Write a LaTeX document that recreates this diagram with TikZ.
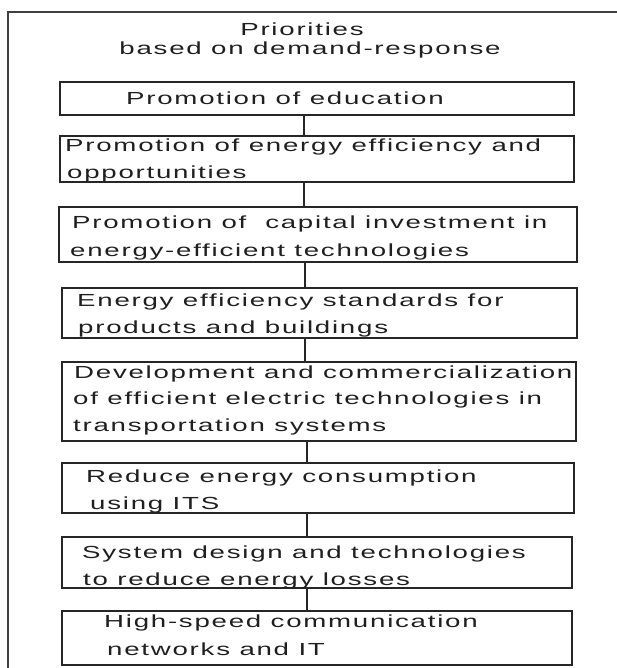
\documentclass[tikz,border=0pt]{standalone}
\usepackage{fontspec}
\setmainfont{Liberation Sans}[FakeStretch=1.58,LetterSpace=10]
\begin{document}
\begin{tikzpicture}[x=1pt,y=-1pt,
  box/.style={draw=black!85,line width=1.6pt,inner sep=0pt},
  txt/.style={inner sep=0pt,anchor=base west,text=black!88,font=\fontsize{17.5}{21}\selectfont},
  ttl/.style={inner sep=0pt,anchor=base,text=black!88,font=\fontsize{17.5}{21}\selectfont},
  link/.style={draw=black!85,line width=1.6pt},
  frame/.style={draw=black!75,line width=2pt}]
\useasboundingbox (0,0) rectangle (617,668);
% outer frame (left and top edges only)
\coordinate (fa) at (7.5,668);
\coordinate (fb) at (7.5,12);
\coordinate (fc) at (617,12);
\draw[frame] (fa) -- (fb) -- (fc);
% heading
\node[ttl] (t1) at (302,35.7) {Priorities};
\node[ttl] (t2) at (310,55) {based on demand-response};
% boxes
\node[box,minimum width=514pt,minimum height=33pt] (b1) at (317,98.5) {};
\node[box,minimum width=514pt,minimum height=46pt] (b2) at (317,159) {};
\node[box,minimum width=518pt,minimum height=55pt] (b3) at (318,234.5) {};
\node[box,minimum width=515pt,minimum height=50pt] (b4) at (319.5,313) {};
\node[box,minimum width=514pt,minimum height=79pt] (b5) at (319,401.5) {};
\node[box,minimum width=512pt,minimum height=50pt] (b6) at (318,488) {};
\node[box,minimum width=510pt,minimum height=51pt] (b7) at (317,562.5) {};
\node[box,minimum width=510pt,minimum height=54pt] (b8) at (317,638) {};
% box texts
\node[txt] (l1a) at (126,105) {Promotion of education};
\node[txt] (l2a) at (65,151.5) {Promotion of energy efficiency and};
\node[txt] (l2b) at (67,179) {opportunities};
\node[txt] (l3a) at (72,228) {Promotion of\ \ capital investment in};
\node[txt] (l3b) at (70,256) {energy-efficient technologies};
\node[txt] (l4a) at (77,306) {Energy efficiency standards for};
\node[txt] (l4b) at (78,333) {products and buildings};
\node[txt] (l5a) at (74,378) {Development and commercialization};
\node[txt] (l5b) at (73,404.5) {of efficient electric technologies in};
\node[txt] (l5c) at (73,431) {transportation systems};
\node[txt] (l6a) at (86,482) {Reduce energy consumption};
\node[txt] (l6b) at (90,509) {using ITS};
\node[txt] (l7a) at (82,558) {System design and technologies};
\node[txt] (l7b) at (83,585) {to reduce energy losses};
\node[txt] (l8a) at (104,627) {High-speed communication};
\node[txt] (l8b) at (107,655) {networks and IT};
% connectors
\coordinate (s1) at (304,0);
\coordinate (s2) at (305,0);
\coordinate (s3) at (307,0);
\draw[link] (b1.south -| s1) -- (b2.north -| s1);
\draw[link] (b2.south -| s1) -- (b3.north -| s1);
\draw[link] (b3.south -| s2) -- (b4.north -| s2);
\draw[link] (b4.south -| s2) -- (b5.north -| s2);
\draw[link] (b5.south -| s3) -- (b6.north -| s3);
\draw[link] (b6.south -| s3) -- (b7.north -| s3);
\draw[link] (b7.south -| s3) -- (b8.north -| s3);
\end{tikzpicture}
\end{document}
